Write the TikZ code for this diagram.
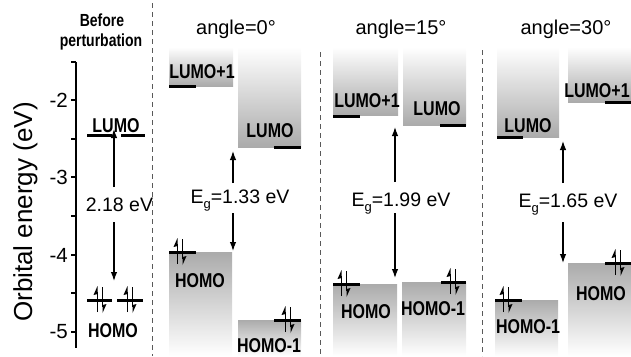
\documentclass[tikz,border=0pt]{standalone}
\usepackage{fontspec}
\setmainfont{Liberation Sans}
\newfontfamily\condfont[FakeStretch=0.8]{Liberation Sans}
\usetikzlibrary{arrows.meta}
\begin{document}
\begin{tikzpicture}[x=1pt,y=-1pt,
  lvlline/.style={line width=3pt,black},
  orb/.style={font=\condfont\bfseries\fontsize{20}{20}\selectfont, anchor=base, inner sep=0pt},
  bef/.style={font=\condfont\bfseries\fontsize{17.5}{17.5}\selectfont, anchor=base, inner sep=0pt},
  ttl/.style={font=\fontsize{20}{20}\selectfont, anchor=base, inner sep=0pt},
  gaplab/.style={font=\fontsize{19.5}{20}\selectfont, anchor=base, inner sep=0pt},
  ticklab/.style={font=\fontsize{20.5}{20}\selectfont, anchor=east, inner sep=0pt},
  ylab/.style={font=\fontsize{26}{26}\selectfont, anchor=base, inner sep=0pt, rotate=90},
  gaparrow/.style={line width=1.2pt, -{Latex[length=9pt,width=6.5pt]}},
  upbox/.style={top color=white, bottom color=black!33},
  downbox/.style={top color=black!33, bottom color=white},
  sep/.style={dash pattern=on 5pt off 4pt, line width=1pt, black!65},
  axisline/.style={line width=1.4pt, black},
  epair/.pic={
    \draw[line width=1.4pt] (-2.5,12) -- (-2.5,-8);
    \fill (-2.5,-14) -- (-6.5,-5) -- (-2.5,-6) -- cycle;
    \draw[line width=1.4pt] (2.5,-13) -- (2.5,7);
    \fill (2.5,13) -- (6.5,4) -- (2.5,5) -- cycle;
  }
]
\useasboundingbox (0,0) rectangle (631,356);

% ---------- shaded boxes ----------
% angle = 0
\shade[upbox] (169,47) rectangle (233,86);
\shade[upbox] (238,47) rectangle (301,147);
\shade[downbox] (169,252) rectangle (232,356);
\shade[downbox] (238,320) rectangle (301,356);
% angle = 15
\shade[upbox] (333,47) rectangle (398,115);
\shade[upbox] (403,47) rectangle (466,125);
\shade[downbox] (333,284) rectangle (397,356);
\shade[downbox] (402,282) rectangle (466,356);
% angle = 30
\shade[upbox] (497,47) rectangle (559,137);
\shade[upbox] (568,47) rectangle (631,102);
\shade[downbox] (568,263) rectangle (631,356);
\shade[downbox] (495,300) rectangle (558,356);

% ---------- separators ----------
\draw[sep] (152,3) -- (152,356);
\draw[sep] (320,52) -- (320,356);
\draw[sep] (482,50) -- (482,356);

% ---------- axis ----------
\draw[axisline] (76,62) -- (76,348);
\foreach \yy in {62,100,139,177,216,255,293,332}
  \draw[axisline] (71,\yy) -- (76,\yy);
\foreach \v/\yy in {-2/100,-3/177,-4/255,-5/332}
  \node[ticklab] (tick\yy) at (68,\yy) {\v};
\node[ylab] (ylabel) at (32,212) {Orbital energy (eV)};

% ---------- before perturbation ----------
\node[bef] (bef1) at (102,27) {Before};
\node[bef] (bef2) at (101,46) {perturbation};
\draw[lvlline] (87,135) -- (112,135);
\draw[lvlline] (121,135) -- (145,135);
\draw[lvlline] (87,300) -- (112,300);
\draw[lvlline] (117,300) -- (143,300);
\pic at (100,300) {epair};
\pic at (130,300) {epair};
\node[orb] (l0) at (116,132) {LUMO};
\node[orb] (h0) at (113,337) {HOMO};
\node[gaplab] (g0) at (119.5,211) {2.18 eV};
\coordinate (a0s) at (114,187); \coordinate (a0e) at (114,129);
\coordinate (b0s) at (114,222); \coordinate (b0e) at (114,281);
\draw[gaparrow] (a0s) -- (a0e);
\draw[gaparrow] (b0s) -- (b0e);

% ---------- angle = 0 ----------
\node[ttl] (t1) at (236,34) {angle=0°};
\draw[lvlline] (169,86) -- (196,86);
\draw[lvlline] (274,147) -- (301,147);
\draw[lvlline] (169,252) -- (196,252);
\draw[lvlline] (274,320) -- (301,320);
\pic at (180,252) {epair};
\pic at (288,320) {epair};
\node[orb] (lp1a) at (202,78) {LUMO+1};
\node[orb] (l1a) at (270,137) {LUMO};
\node[orb] (h1a) at (200,287) {HOMO};
\node[orb] (hm1a) at (269,352) {HOMO-1};
\node[gaplab] (g1) at (240,203) {E\raisebox{-0.3em}{\fontsize{13}{13}\selectfont g}=1.33 eV};
\coordinate (a1s) at (233,183); \coordinate (a1e) at (233,151);
\coordinate (b1s) at (233,213); \coordinate (b1e) at (233,251);
\draw[gaparrow] (a1s) -- (a1e);
\draw[gaparrow] (b1s) -- (b1e);

% ---------- angle = 15 ----------
\node[ttl] (t2) at (401,34) {angle=15°};
\draw[lvlline] (333,116) -- (360,116);
\draw[lvlline] (440,125) -- (466,125);
\draw[lvlline] (333,284) -- (360,284);
\draw[lvlline] (441,282) -- (466,282);
\pic at (344,284) {epair};
\pic at (453,282) {epair};
\node[orb] (lp1b) at (367,107) {LUMO+1};
\node[orb] (l1b) at (437,115) {LUMO};
\node[orb] (h1b) at (366,318) {HOMO};
\node[orb] (hm1b) at (433,315) {HOMO-1};
\node[gaplab] (g2) at (401,206) {E\raisebox{-0.3em}{\fontsize{13}{13}\selectfont g}=1.99 eV};
\coordinate (a2s) at (395,182); \coordinate (a2e) at (395,127);
\coordinate (b2s) at (395,213); \coordinate (b2e) at (395,278);
\draw[gaparrow] (a2s) -- (a2e);
\draw[gaparrow] (b2s) -- (b2e);

% ---------- angle = 30 ----------
\node[ttl] (t3) at (566,34) {angle=30°};
\draw[lvlline] (497,137) -- (523,137);
\draw[lvlline] (605,102) -- (631,102);
\draw[lvlline] (605,263) -- (631,263);
\draw[lvlline] (495,300) -- (522,300);
\pic at (618,263) {epair};
\pic at (506,300) {epair};
\node[orb] (l1c) at (528,132) {LUMO};
\node[orb] (lp1c) at (597,97) {LUMO+1};
\node[orb] (h1c) at (601,300) {HOMO};
\node[orb] (hm1c) at (528,333) {HOMO-1};
\node[gaplab] (g3) at (568,207) {E\raisebox{-0.3em}{\fontsize{13}{13}\selectfont g}=1.65 eV};
\coordinate (a3s) at (563,183); \coordinate (a3e) at (563,141);
\coordinate (b3s) at (563,222); \coordinate (b3e) at (563,263);
\draw[gaparrow] (a3s) -- (a3e);
\draw[gaparrow] (b3s) -- (b3e);
\end{tikzpicture}
\end{document}
